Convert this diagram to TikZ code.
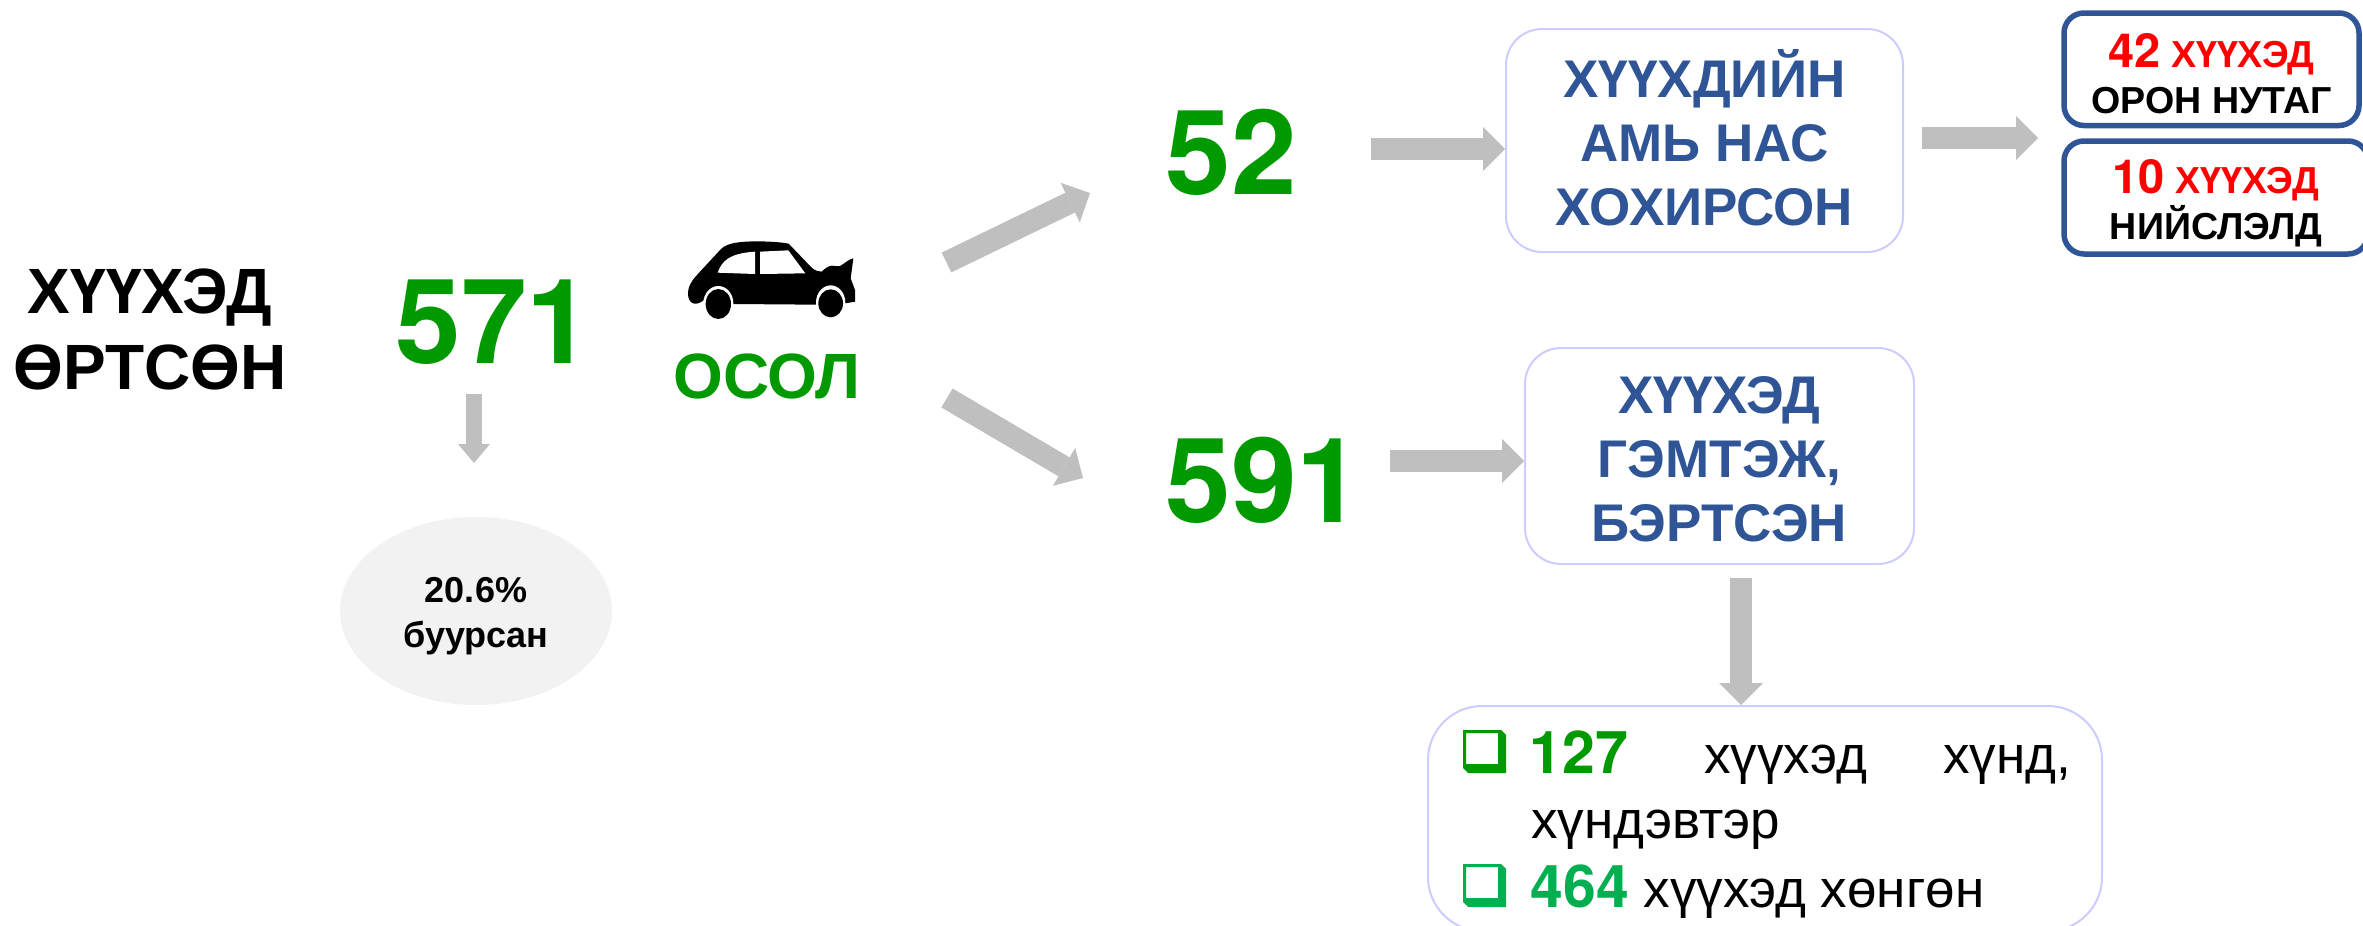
\documentclass[tikz,border=0pt]{standalone}
\usepackage{fontspec}
\setmainfont{Liberation Sans}
\newfontfamily\numf{TeX Gyre Heros}
\usetikzlibrary{arrows.meta,shapes.geometric}
\definecolor{grn}{HTML}{009900}
\definecolor{grn2}{HTML}{00B050}
\definecolor{blu}{HTML}{2F5597}
\definecolor{gry}{HTML}{BFBFBF}
\definecolor{pale}{HTML}{CCCCFF}
\definecolor{ell}{HTML}{F2F2F2}
\tikzset{
  blk/.style={draw=gry,line width=11pt,-{Triangle[length=11pt,width=22pt,line width=0pt,fill=gry]}},
  blksmall/.style={draw=gry,line width=8pt,-{Triangle[length=9.5pt,width=16pt,line width=0pt,fill=gry]}},
  softbox/.style={draw=pale,line width=1pt,rounded corners=18pt,inner sep=0pt,align=center,text=blu,
    font=\fontsize{26.5}{32}\selectfont\bfseries},
  redbox/.style={draw=blu,line width=2.75pt,rounded corners=10pt,inner sep=0pt,align=center,
    font=\fontsize{18.8}{23}\selectfont\bfseries},
  bignum/.style={anchor=base west,inner sep=0pt,text=grn,font=\numf\fontsize{59}{60}\selectfont\bfseries},
  linetxt/.style={anchor=base west,inner sep=0pt,font=\fontsize{26.5}{27}\selectfont}
}
\newcommand{\bulletmark}[3]{%
  \fill[#3,even odd rule,shift={(#1,#2)}] (0,0)--(38,0)--(43,5)--(43,43)--(5,43)--(0,38)--cycle
    (3,3)--(35,3)--(35,34)--(3,34)--cycle;}
\newcommand{\redn}[1]{{\numf\fontsize{23.5}{23}\selectfont\textcolor{red}{#1}}}
\newcommand{\redw}[1]{\textcolor{red}{#1}}
\newcommand{\listn}[2]{{\numf\fontsize{29.5}{28}\selectfont\bfseries\textcolor{#1}{#2}}}
\begin{document}
\begin{tikzpicture}[x=0.5pt,y=-0.5pt]
\useasboundingbox (0,0) rectangle (2363,926);
\clip (0,0) rectangle (2363,926);

% left column
\node[inner sep=0pt,align=center,font=\fontsize{32}{38}\selectfont\bfseries] (title) at (150,329) {ХҮҮХЭД\\ӨРТСӨН};
\node[bignum] (n571) at (395,363) {571};
\node[draw=none,fill=ell,ellipse,inner sep=0pt,minimum width=136pt,minimum height=94pt,align=center,
  font=\fontsize{18}{22.5}\selectfont\bfseries] (drop) at (476,611) {\rule{0pt}{18pt}20.6\%\\буурсан};
\coordinate (a0) at (474,394);
\coordinate (a0e) at (474,463);
\draw[blksmall] (a0) -- (a0e);

% car
\begin{scope}[shift={(600,200)},x=0.16667pt,y=-0.16667pt]
  \fill[black] (265,270) .. controls (270,245) and (285,232) .. (300,215) -- (365,145)
    .. controls (385,128) and (420,125) .. (465,124) .. controls (500,124) and (540,126) .. (566,131)
    -- (635,203) .. controls (645,212) and (655,215) .. (665,215) .. controls (675,205) and (685,198) .. (695,197)
    .. controls (705,197) and (712,200) .. (720,198) .. controls (735,190) and (745,178) .. (760,175)
    -- (752,235) -- (765,270) -- (765,305) -- (735,310) -- (650,310) -- (650,314) -- (400,312) -- (312,300)
    .. controls (300,310) and (285,315) .. (275,308) .. controls (265,300) and (262,285) .. (265,270) -- cycle;
  \fill[white] (353,218) .. controls (365,185) and (385,160) .. (465,155) -- (465,222) -- cycle;
  \fill[white] (480,155) -- (565,151) -- (616,220) -- (480,222) -- cycle;
  \fill[white] (355,310) ellipse [x radius=45,y radius=52];
  \fill[white] (692,308) ellipse [x radius=44,y radius=52];
  \fill[black] (355,312) ellipse [x radius=38,y radius=45];
  \fill[black] (692,310) ellipse [x radius=37,y radius=42];
\end{scope}
\node[anchor=base,inner sep=0pt,text=grn,font=\fontsize{32}{32}\selectfont\bfseries] (osol) at (767,398) {ОСОЛ};

% diagonal arrows
\coordinate (d1s) at (946.5,262.5);
\coordinate (d1e) at (1090,193);
\coordinate (d2s) at (947,398);
\coordinate (d2e) at (1083,478);
\draw[blk] (d1s) -- (d1e);
\draw[blk] (d2s) -- (d2e);

% numbers
\node[bignum] (n52) at (1165,194) {52};
\node[bignum] (n591) at (1165,522) {591};

% boxes
\node[softbox,minimum width=198.5pt,minimum height=111.5pt] (box1) at (1704.5,140.5) {ХҮҮХДИЙН\\АМЬ НАС\\ХОХИРСОН\rule[-3pt]{0pt}{0pt}};
\node[softbox,minimum width=194.5pt,minimum height=108pt] (box2) at (1719.5,456) {\rule{0pt}{21.5pt}ХҮҮХЭД\\ГЭМТЭЖ,\\БЭРТСЭН};
\node[redbox,minimum width=147.5pt,minimum height=56.25pt] (box4) at (2211.5,69.25) {\rule{0pt}{21pt}\redn{42} \redw{ХҮҮХЭД}\\ОРОН НУТАГ};
\node[redbox,minimum width=152pt,minimum height=56.5pt] (box5) at (2216,197.5) {\rule{0pt}{23pt}\redn{10} \redw{ХҮҮХЭД}\\НИЙСЛЭЛД};
\node[draw=pale,line width=1pt,rounded corners=27pt,inner sep=0pt,minimum width=337pt,minimum height=112.5pt] (box3) at (1765,818.5) {};

% straight arrows
\coordinate (a1) at (1371,149);
\draw[blk] (a1) -- (a1 -| box1.west);
\coordinate (a2) at (1922,138);
\coordinate (a2e) at (2038,138);
\draw[blk] (a2) -- (a2e);
\coordinate (a3) at (1390,461);
\draw[blk] (a3) -- (a3 -| box2.west);
\coordinate (a4) at (1741,578);
\draw[blk] (a4) -- (a4 |- box3.north);

% list
\bulletmark{1463}{730}{grn}
\bulletmark{1463}{864}{grn2}
\node[linetxt] (l1) at (1529,773) {\hbox to 271pt{\listn{grn}{127}\hfil хүүхэд\hfil хүнд,}};
\node[linetxt] (l2) at (1531,838) {хүндэвтэр};
\node[linetxt] (l3) at (1530,907) {\listn{grn2}{464} хүүхэд хөнгөн};
\end{tikzpicture}
\end{document}
